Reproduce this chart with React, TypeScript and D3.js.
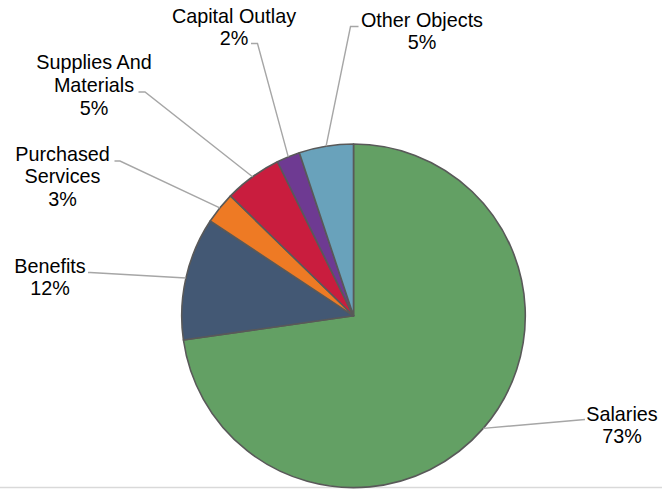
import React from "react";
import * as d3 from "d3";

const categories = [
  "Salaries",
  "Benefits",
  "Purchased Services",
  "Supplies And Materials",
  "Capital Outlay",
  "Other Objects",
];
const values = [72.75, 11.55, 3.0, 5.4, 2.2, 5.1];
const colors = ["#63A064", "#435874", "#EE7A24", "#C91D3E", "#6E3A92", "#69A2BB"];

// label layout: wrapped lines, text center x, first baseline y, leader elbow & end
const labelLines = [
  ["Salaries"],
  ["Benefits"],
  ["Purchased", "Services"],
  ["Supplies And", "Materials"],
  ["Capital Outlay"],
  ["Other Objects"],
];
const labelLayout = [
  { cx: 622, y: 420.5, elbow: [585, 419.5], end: [585, 419.5] },
  { cx: 50, y: 272.5, elbow: [90, 272.5], end: [88, 272.5] },
  { cx: 62.5, y: 160.5, elbow: [120, 161], end: [114.5, 161] },
  { cx: 94, y: 69, elbow: [145, 92], end: [138.5, 92] },
  { cx: 234, y: 22.5, elbow: [257.5, 43.5], end: [251, 43.5] },
  { cx: 422, y: 26.5, elbow: [350.5, 26.5], end: [358.5, 26.5] },
];

const W = 662;
const H = 489;
const CX = 353.5;
const CY = 315.8;
const R = 171.8;
const LINE_H = 22.8;
const FONT = "'Liberation Sans', Arial, Helvetica, sans-serif";

export default function App() {
  const total = d3.sum(values);
  const pie = d3
    .pie<number>()
    .sort(null)
    .startAngle(0)
    .endAngle(2 * Math.PI)
    .value((d) => d);
  const arcs = pie(values);
  const arc = d3.arc<d3.PieArcDatum<number>>().innerRadius(0).outerRadius(R);

  return (
    <svg
      width={W}
      height={H}
      style={{ position: "absolute", left: 0, top: 0, background: "#fff" }}
    >
      <line x1={0} x2={W} y1={487.5} y2={487.5} stroke="#D9D9D9" strokeWidth={1.5} />
      <g transform={`translate(${CX},${CY})`}>
        {arcs.map((a, i) => (
          <path
            key={i}
            d={arc(a) || ""}
            fill={colors[i]}
            stroke="#595959"
            strokeWidth={1.6}
            strokeLinejoin="round"
          />
        ))}
      </g>
      {arcs.map((a, i) => {
        const mid = (a.startAngle + a.endAngle) / 2;
        const px = CX + R * Math.sin(mid);
        const py = CY - R * Math.cos(mid);
        const L = labelLayout[i];
        return (
          <polyline
            key={"l" + i}
            points={`${px},${py} ${L.elbow[0]},${L.elbow[1]} ${L.end[0]},${L.end[1]}`}
            fill="none"
            stroke="#A6A6A6"
            strokeWidth={1.4}
          />
        );
      })}
      {arcs.map((a, i) => {
        const L = labelLayout[i];
        const pct = Math.round((values[i] / total) * 100) + "%";
        const lines = [...labelLines[i], pct];
        return (
          <text
            key={"t" + i}
            x={L.cx}
            y={L.y}
            textAnchor="middle"
            fontFamily={FONT}
            fontSize={19.8}
            fill="#000"
          >
            {lines.map((s, j) => (
              <tspan key={j} x={L.cx} y={L.y + j * LINE_H}>
                {s}
              </tspan>
            ))}
          </text>
        );
      })}
    </svg>
  );
}
